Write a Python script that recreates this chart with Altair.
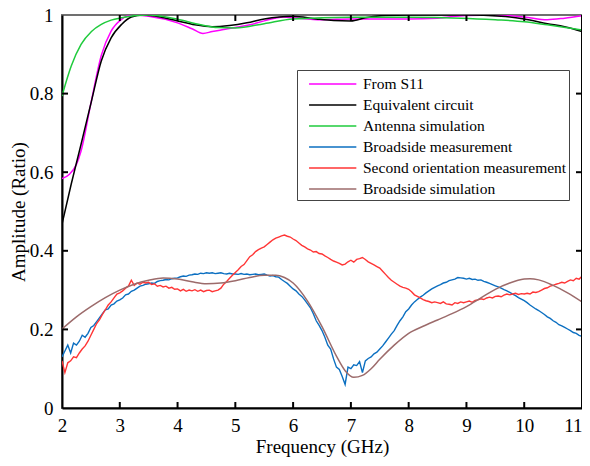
import altair as alt
import pandas as pd

W, H = 520, 393
FONT = "Liberation Serif"

series_names = ["From S11", "Equivalent circuit", "Antenna simulation",
                "Broadside measurement", "Second orientation measurement",
                "Broadside simulation"]
series_colors = ["#FF00FF", "#000000", "#1FCB3C", "#0B6FC1", "#FF3535", "#9C6B6B"]

# ---- smooth upper curves (frequency GHz, amplitude) ----
s11_f = [2.0, 2.13, 2.25, 2.33, 2.5, 2.68, 2.85, 3.03, 3.2, 3.5, 4.0, 4.25, 4.44, 4.6, 4.8,
         5.0, 5.25, 5.5, 5.83, 6.0, 6.5, 7.0, 7.5, 8.0, 8.5, 9.0, 9.5, 10.0, 10.4, 10.7, 11.0]
s11_v = [0.584, 0.595, 0.62, 0.654, 0.775, 0.897, 0.959, 0.989, 1.0, 0.997, 0.98, 0.965, 0.953,
         0.958, 0.963, 0.968, 0.975, 0.985, 0.995, 0.993, 0.988, 0.99, 0.99, 0.99, 0.992, 0.999,
         1.0, 0.995, 0.988, 0.992, 0.998]

eq_f = [2.0, 2.16, 2.33, 2.51, 2.68, 2.85, 3.03, 3.2, 3.4, 3.7, 4.0, 4.3, 4.6, 4.9, 5.2, 5.5,
        6.0, 6.4, 6.7, 7.0, 7.25, 7.6, 8.0, 9.0, 9.6, 10.0, 10.4, 10.7, 11.0]
eq_v = [0.468, 0.57, 0.671, 0.781, 0.883, 0.942, 0.976, 0.995, 1.0, 0.995, 0.985, 0.975, 0.97,
        0.973, 0.98, 0.99, 0.997, 0.99, 0.986, 0.985, 0.993, 0.999, 1.0, 1.0, 0.997, 0.99,
        0.978, 0.97, 0.958]

ant_f = [2.0, 2.16, 2.33, 2.51, 2.68, 2.85, 3.03, 3.3, 3.5, 4.0, 4.4, 4.7, 5.0, 5.5, 6.0, 7.0,
         8.0, 8.9, 9.5, 10.0, 10.4, 11.0]
ant_v = [0.794, 0.87, 0.925, 0.958, 0.976, 0.987, 0.993, 0.999, 1.0, 0.989, 0.975, 0.968,
         0.967, 0.978, 0.99, 0.994, 0.994, 0.992, 0.988, 0.983, 0.975, 0.962]

bsim_f = [2.0, 2.25, 2.5, 2.75, 3.0, 3.25, 3.5, 3.75, 4.0, 4.25, 4.5, 4.75, 5.0, 5.25, 5.5,
          5.7, 5.85, 6.0, 6.25, 6.5, 6.75, 6.9, 7.05, 7.2, 7.35, 7.5, 7.75, 8.0, 8.25, 8.5,
          8.75, 9.0, 9.25, 9.5, 9.75, 10.0, 10.1, 10.25, 10.5, 10.75, 11.0]
bsim_v = [0.201, 0.232, 0.258, 0.281, 0.300, 0.315, 0.325, 0.331, 0.328, 0.321, 0.316, 0.318,
          0.324, 0.332, 0.338, 0.338, 0.332, 0.318, 0.272, 0.207, 0.132, 0.095, 0.078, 0.083,
          0.1, 0.124, 0.16, 0.19, 0.208, 0.224, 0.24, 0.258, 0.28, 0.302, 0.318, 0.328, 0.329,
          0.326, 0.312, 0.293, 0.27]

# ---- measured curves, sampled every 0.05 GHz from 2 to 11 GHz ----
meas_f = [round(2 + 0.05 * i, 2) for i in range(181)]

broad_meas = [
    0.13, 0.145, 0.16, 0.14, 0.165, 0.16, 0.17, 0.185, 0.18, 0.19,
    0.205, 0.21, 0.22, 0.23, 0.24, 0.25, 0.252, 0.262, 0.265, 0.272,
    0.275, 0.28, 0.288, 0.29, 0.297, 0.30, 0.305, 0.31, 0.312, 0.315,
    0.316, 0.318, 0.317, 0.322, 0.324, 0.325, 0.327, 0.326, 0.329, 0.33,
    0.331, 0.334, 0.336, 0.335, 0.338, 0.339, 0.341, 0.34, 0.343, 0.342,
    0.344, 0.343, 0.344, 0.342, 0.343, 0.344, 0.342, 0.341, 0.343, 0.341,
    0.341, 0.34, 0.342, 0.34, 0.341, 0.339, 0.34, 0.341, 0.339, 0.34,
    0.341, 0.338, 0.336, 0.337, 0.334, 0.333, 0.327, 0.322, 0.317, 0.31,
    0.303, 0.298, 0.29, 0.284, 0.275, 0.265, 0.255, 0.24, 0.222, 0.21,
    0.197, 0.18, 0.16, 0.15, 0.125, 0.104, 0.098, 0.08, 0.06, 0.104,
    0.1, 0.11, 0.108, 0.118, 0.09, 0.12, 0.126, 0.13, 0.138, 0.142,
    0.15, 0.158, 0.168, 0.178, 0.188, 0.197, 0.21, 0.222, 0.232, 0.245,
    0.252, 0.262, 0.27, 0.276, 0.282, 0.287, 0.293, 0.298, 0.303, 0.307,
    0.311, 0.314, 0.318, 0.32, 0.324, 0.326, 0.328, 0.332, 0.331, 0.33,
    0.328, 0.33, 0.327, 0.328, 0.325, 0.326, 0.322, 0.32, 0.317, 0.314,
    0.311, 0.308, 0.305, 0.301, 0.298, 0.294, 0.29, 0.286, 0.281, 0.277,
    0.273, 0.268, 0.262, 0.257, 0.252, 0.248, 0.243, 0.238, 0.232, 0.228,
    0.222, 0.218, 0.212, 0.209, 0.205, 0.201, 0.197, 0.192, 0.19, 0.185,
    0.182]

second_meas = [
    0.12, 0.09, 0.115, 0.12, 0.13, 0.128, 0.14, 0.15, 0.158, 0.17,
    0.185, 0.2, 0.215, 0.225, 0.238, 0.25, 0.262, 0.27, 0.28, 0.29,
    0.293, 0.298, 0.305, 0.31, 0.325, 0.312, 0.318, 0.315, 0.32, 0.318,
    0.32, 0.314, 0.316, 0.31, 0.312, 0.308, 0.31, 0.305, 0.307, 0.302,
    0.303, 0.298, 0.302, 0.297, 0.3, 0.298, 0.301, 0.297, 0.3, 0.296,
    0.299, 0.3, 0.296, 0.298, 0.3, 0.305, 0.315, 0.322, 0.33, 0.338,
    0.345, 0.352, 0.36, 0.365, 0.375, 0.385, 0.39, 0.398, 0.403, 0.407,
    0.41, 0.416, 0.422, 0.428, 0.432, 0.435, 0.438, 0.44, 0.437, 0.435,
    0.43, 0.426, 0.42, 0.414, 0.41, 0.405, 0.402, 0.397, 0.398, 0.393,
    0.392, 0.387, 0.383, 0.378, 0.374, 0.371, 0.368, 0.364, 0.366, 0.372,
    0.376, 0.371, 0.378, 0.38, 0.383, 0.378, 0.372, 0.368, 0.364, 0.36,
    0.356, 0.348, 0.34, 0.332, 0.325, 0.32, 0.315, 0.31, 0.307, 0.305,
    0.302, 0.296, 0.288, 0.284, 0.28, 0.276, 0.273, 0.271, 0.268, 0.27,
    0.268, 0.266, 0.27, 0.265, 0.264, 0.262, 0.268, 0.266, 0.27, 0.268,
    0.27, 0.272, 0.269, 0.274, 0.275, 0.278, 0.276, 0.28, 0.282, 0.28,
    0.284, 0.285, 0.283, 0.287, 0.29, 0.288, 0.29, 0.292, 0.289, 0.291,
    0.29, 0.292, 0.29, 0.295, 0.294, 0.296, 0.3, 0.304, 0.306, 0.31,
    0.312, 0.315, 0.317, 0.32, 0.318, 0.322, 0.326, 0.324, 0.33, 0.328,
    0.335]

x_ticks = [2, 3, 4, 5, 6, 7, 8, 9, 10, 11]
y_ticks = [0, 0.2, 0.4, 0.6, 0.8, 1]

rows = []
def add(name, fs, vs):
    for i, (f, v) in enumerate(zip(fs, vs)):
        rows.append({"series": name, "f": f, "v": v, "i": i})

add(series_names[0], s11_f, s11_v)
add(series_names[1], eq_f, eq_v)
add(series_names[2], ant_f, ant_v)
add(series_names[3], meas_f, broad_meas)
add(series_names[4], meas_f, second_meas)
add(series_names[5], bsim_f, bsim_v)
df = pd.DataFrame(rows)

xs = alt.Scale(domain=[2, 11], nice=False, zero=False)
ys = alt.Scale(domain=[0, 1], nice=False, zero=False)

X_AX = alt.Axis(values=x_ticks, format="~g", title="Frequency (GHz)", titlePadding=2,
                labelPadding=8,
                labelAlign={"condition": {"test": "datum.value == 11", "value": "right"},
                            "value": "center"})
Y_AX = alt.Axis(values=y_ticks, format="~g", title="Amplitude (Ratio)", titlePadding=1,
                labelPadding=9)

smooth_names = [series_names[i] for i in (0, 1, 2)]
meas_names = [series_names[i] for i in (3, 4)]

color = alt.Color(
    "series:N",
    scale=alt.Scale(domain=series_names, range=series_colors),
    sort=series_names,
    legend=alt.Legend(
        orient="none", legendX=235, legendY=55, title=None,
        symbolType="M-0.18,0H4.2", symbolSize=466, symbolStrokeWidth=1.5,
        labelFont=FONT, labelFontSize=15.5, labelColor="black",
        symbolOffset=0, labelOffset=40, labelLimit=0, rowPadding=0,
        strokeColor="#444", fillColor="white", padding=2,
    ),
)

base = alt.Chart(df)

def series_layer(names, interp, sw):
    return base.transform_filter(
        alt.FieldOneOfPredicate(field="series", oneOf=names)
    ).mark_line(strokeWidth=sw, interpolate=interp, clip=True).encode(
        x=alt.X("f:Q", scale=xs, axis=X_AX),
        y=alt.Y("v:Q", scale=ys, axis=Y_AX),
        color=color,
        order="i:Q",
    )

lines_smooth = series_layer(smooth_names, "monotone", 1.5)
lines_meas = series_layer(meas_names, "linear", 1.4)
lines_brown = series_layer([series_names[5]], "monotone", 1.5)

xt = pd.DataFrame({"t": x_ticks[1:-1]})
yt = pd.DataFrame({"t": y_ticks[1:-1]})

bottom_ticks = alt.Chart(xt).mark_rule(color="black", strokeWidth=2).encode(
    x=alt.X("t:Q", scale=xs, axis=X_AX), y=alt.value(H - 6), y2=alt.value(H))
top_ticks = alt.Chart(xt).mark_rule(color="black", strokeWidth=2).encode(
    x=alt.X("t:Q", scale=xs, axis=X_AX), y=alt.value(0), y2=alt.value(6))
left_ticks = alt.Chart(yt).mark_rule(color="black", strokeWidth=2).encode(
    y=alt.Y("t:Q", scale=ys, axis=Y_AX), x=alt.value(0), x2=alt.value(6))
right_ticks = alt.Chart(yt).mark_rule(color="black", strokeWidth=2).encode(
    y=alt.Y("t:Q", scale=ys, axis=Y_AX), x=alt.value(W - 6), x2=alt.value(W))
right_border = alt.Chart(pd.DataFrame({"t": [11]})).mark_rule(color="black", strokeWidth=2).encode(
    x=alt.X("t:Q", scale=xs, axis=X_AX), y=alt.value(0), y2=alt.value(H))

chart = alt.layer(
    lines_smooth, lines_meas, lines_brown,
    bottom_ticks, top_ticks, left_ticks, right_ticks, right_border,
).properties(
    width=W, height=H,
    autosize=alt.AutoSizeParams(type="none"),
    padding={"left": 54, "top": 7, "right": 0, "bottom": 50},
    background="white",
).configure_axis(
    labelFont=FONT, labelFontSize=19, labelColor="black", tickSize=0,
    domainColor="black", domainWidth=2, grid=False, labelFlush=False,
    titleFont=FONT, titleFontSize=19, titleFontWeight="normal", titleColor="black",
).configure_view(
    stroke="#707070", strokeWidth=2,
)

chart.save("out.html", embed_options={"renderer": "svg", "actions": False})
